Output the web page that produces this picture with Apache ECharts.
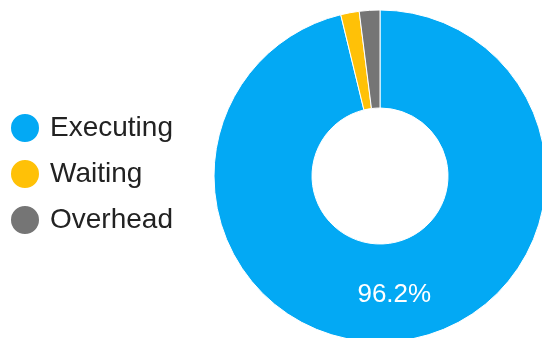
<!DOCTYPE html>
<html><head><meta charset="utf-8">
<script src="https://cdn.jsdelivr.net/npm/echarts@6/dist/echarts.min.js"></script>
<style>html,body{margin:0;padding:0;background:#fff}#c{width:542px;height:338px}</style>
</head><body><div id="c"></div>
<script>
const categories = ['Executing', 'Waiting', 'Overhead'];
const values = [96.2, 1.8, 2.0];
const colors = ['#03A9F4', '#FFC107', '#757575'];

const chart = echarts.init(document.getElementById('c'), null, {renderer: 'canvas'});
chart.setOption({
  animation: false,
  legend: {
    orient: 'vertical',
    left: 4,
    top: 107,
    padding: 5,
    icon: 'circle',
    itemWidth: 30,
    itemHeight: 30,
    itemGap: 14,
    textStyle: {fontFamily: 'Liberation Sans, Arial, sans-serif', fontSize: 28, color: '#222', padding: [0, 0, 0, 5]},
    data: categories
  },
  series: [{
    type: 'pie',
    center: [380, 176],
    radius: [68, 166],
    startAngle: 90,
    clockwise: true,
    avoidLabelOverlap: false,
    itemStyle: {borderColor: '#fff', borderWidth: 1},
    label: {
      show: true,
      position: 'inside',
      color: '#fff',
      fontFamily: 'Liberation Sans, Arial, sans-serif',
      fontSize: 26,
      formatter: p => p.percent >= 5 ? p.value.toFixed(1) + '%' : ''
    },
    labelLine: {show: false},
    emphasis: {disabled: true},
    data: categories.map((n, i) => ({name: n, value: values[i], itemStyle: {color: colors[i]}}))
  }]
});
</script></body></html>
